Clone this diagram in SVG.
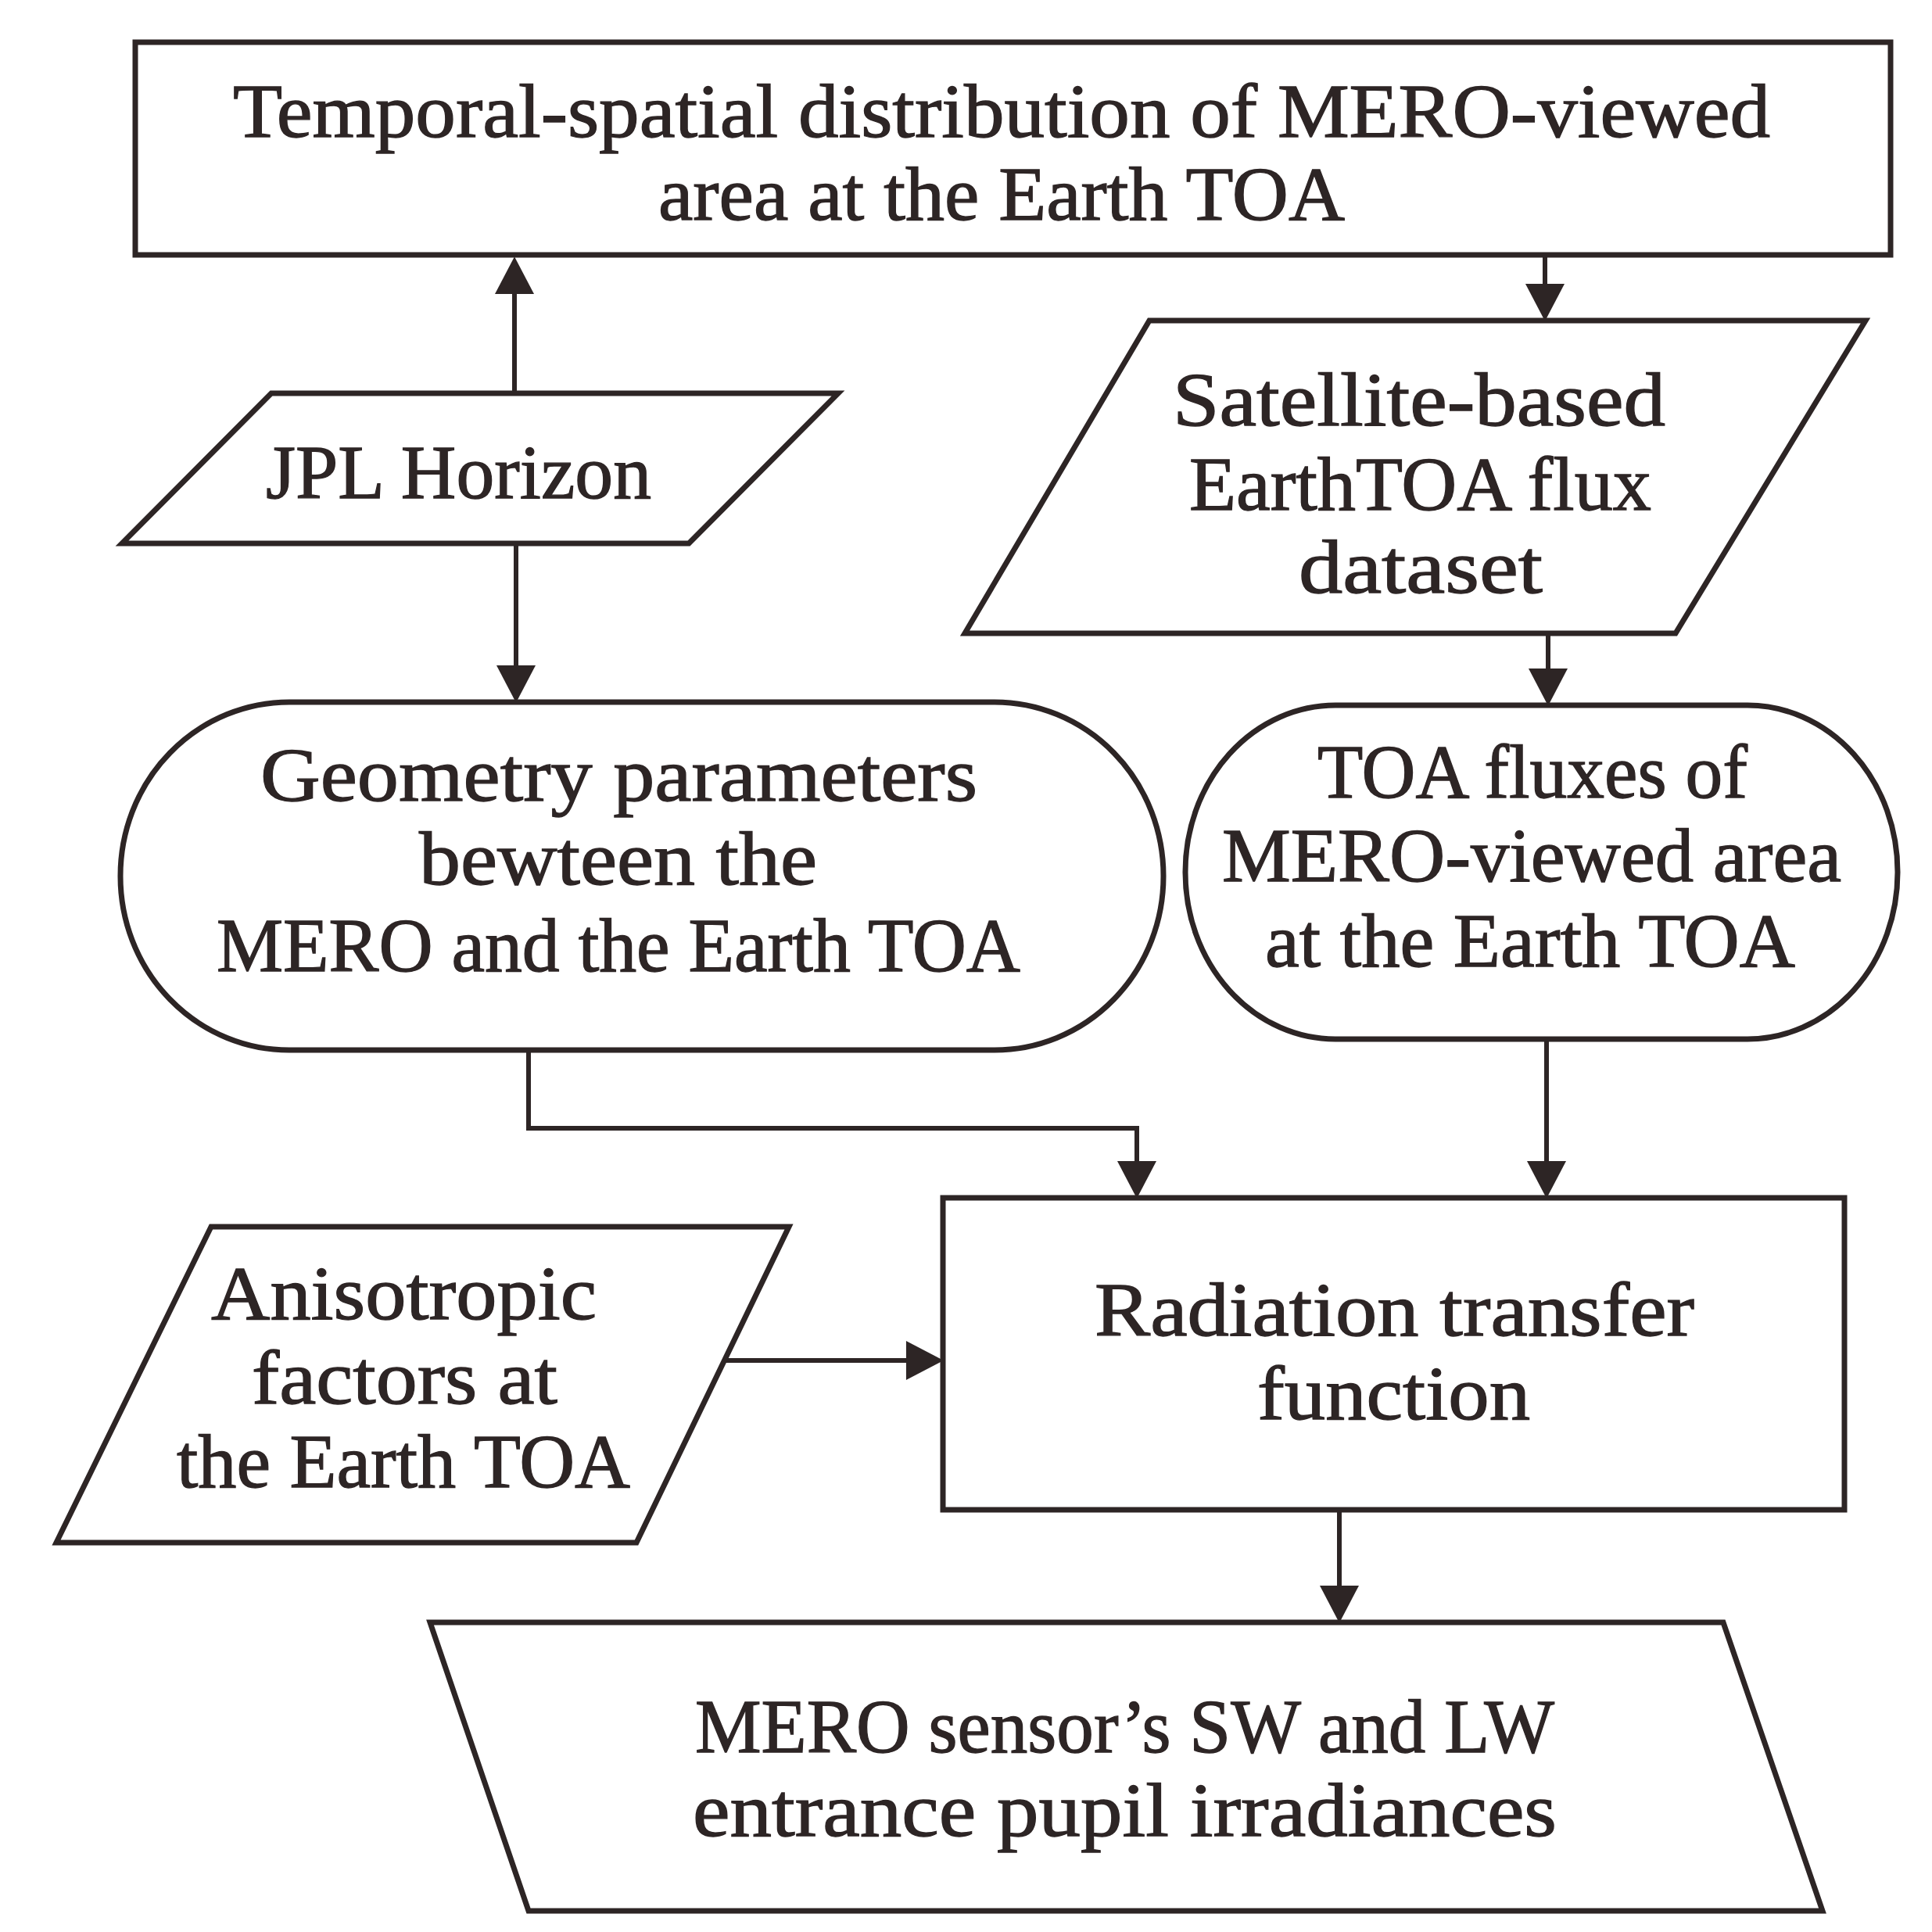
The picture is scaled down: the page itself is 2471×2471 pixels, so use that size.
<svg xmlns="http://www.w3.org/2000/svg" width="2471" height="2471" viewBox="0 0 2471 2471">
<style>
.shape{fill:#ffffff;stroke:#2d2525;stroke-width:7;stroke-linejoin:miter}
.conn{fill:none;stroke:#2d2525;stroke-width:6}
.t{font-family:"Liberation Serif","Times New Roman",serif;font-size:97px;fill:#2d2525;stroke:#2d2525;stroke-width:1.3}
</style>
<defs>
<marker id="ah" markerUnits="userSpaceOnUse" markerWidth="50" markerHeight="50" viewBox="0 0 46 48" refX="26" refY="24" orient="auto">
<path d="M0,0 L46,24 L0,48 Z" fill="#2d2525"/>
</marker>
</defs>
<rect width="2471" height="2471" fill="#ffffff"/>

<g id="connectors">
<path class="conn" d="M658,503 V349" marker-end="url(#ah)"/>
<path class="conn" d="M660,695 V878" marker-end="url(#ah)"/>
<path class="conn" d="M1976,326 V390" marker-end="url(#ah)"/>
<path class="conn" d="M1980,810 V882" marker-end="url(#ah)"/>
<path class="conn" d="M676,1343 V1443 H1454 V1512" marker-end="url(#ah)"/>
<path class="conn" d="M1978,1329 V1512" marker-end="url(#ah)"/>
<path class="conn" d="M928,1740 H1186" marker-end="url(#ah)"/>
<path class="conn" d="M1713,1931 V2055" marker-end="url(#ah)"/>
</g>

<g id="node-temporal">
<rect class="shape" x="173" y="54" width="2245" height="272"/>
<text class="t" x="298" y="175" textLength="1966" lengthAdjust="spacingAndGlyphs">Temporal-spatial distribution of MERO-viewed</text>
<text class="t" x="842" y="281" textLength="878" lengthAdjust="spacingAndGlyphs">area at the Earth TOA</text>
</g>

<g id="node-jpl">
<polygon class="shape" points="347,503 1072,503 881,695 156,695"/>
<text class="t" x="340" y="637" textLength="493" lengthAdjust="spacingAndGlyphs">JPL Horizon</text>
</g>

<g id="node-satellite">
<polygon class="shape" points="1470,410 2386,410 2143,810 1234,810"/>
<text class="t" x="1500" y="544" textLength="630" lengthAdjust="spacingAndGlyphs">Satellite-based</text>
<text class="t" x="1521" y="652" textLength="591" lengthAdjust="spacingAndGlyphs">EarthTOA flux</text>
<text class="t" x="1661" y="758" textLength="312" lengthAdjust="spacingAndGlyphs">dataset</text>
</g>

<g id="node-geometry">
<rect class="shape" x="154" y="898" width="1334" height="445" rx="216" ry="222"/>
<text class="t" x="333" y="1024" textLength="917" lengthAdjust="spacingAndGlyphs">Geometry parameters</text>
<text class="t" x="536" y="1131" textLength="509" lengthAdjust="spacingAndGlyphs">bewteen the</text>
<text class="t" x="277" y="1242" textLength="1028" lengthAdjust="spacingAndGlyphs">MERO and the Earth TOA</text>
</g>

<g id="node-toafluxes">
<rect class="shape" x="1516" y="902" width="911" height="427" rx="192" ry="213"/>
<text class="t" x="1685" y="1020" textLength="550" lengthAdjust="spacingAndGlyphs">TOA fluxes of</text>
<text class="t" x="1563" y="1127" textLength="792" lengthAdjust="spacingAndGlyphs">MERO-viewed area</text>
<text class="t" x="1618" y="1236" textLength="678" lengthAdjust="spacingAndGlyphs">at the Earth TOA</text>
</g>

<g id="node-anisotropic">
<polygon class="shape" points="270,1569 1009,1569 814,1973 72,1973"/>
<text class="t" x="270" y="1687" textLength="493" lengthAdjust="spacingAndGlyphs">Anisotropic</text>
<text class="t" x="322" y="1795" textLength="391" lengthAdjust="spacingAndGlyphs">factors at</text>
<text class="t" x="226" y="1902" textLength="580" lengthAdjust="spacingAndGlyphs">the Earth TOA</text>
</g>

<g id="node-radiation">
<rect class="shape" x="1206" y="1532" width="1153" height="399"/>
<text class="t" x="1400" y="1708" textLength="767" lengthAdjust="spacingAndGlyphs">Radiation transfer</text>
<text class="t" x="1608" y="1815" textLength="349" lengthAdjust="spacingAndGlyphs">function</text>
</g>

<g id="node-mero">
<polygon class="shape" points="550,2075 2204,2075 2331,2444 676,2444"/>
<text class="t" x="889" y="2241" textLength="1099" lengthAdjust="spacingAndGlyphs">MERO sensor’s SW and LW</text>
<text class="t" x="886" y="2348" textLength="1105" lengthAdjust="spacingAndGlyphs">entrance pupil irradiances</text>
</g>
</svg>
